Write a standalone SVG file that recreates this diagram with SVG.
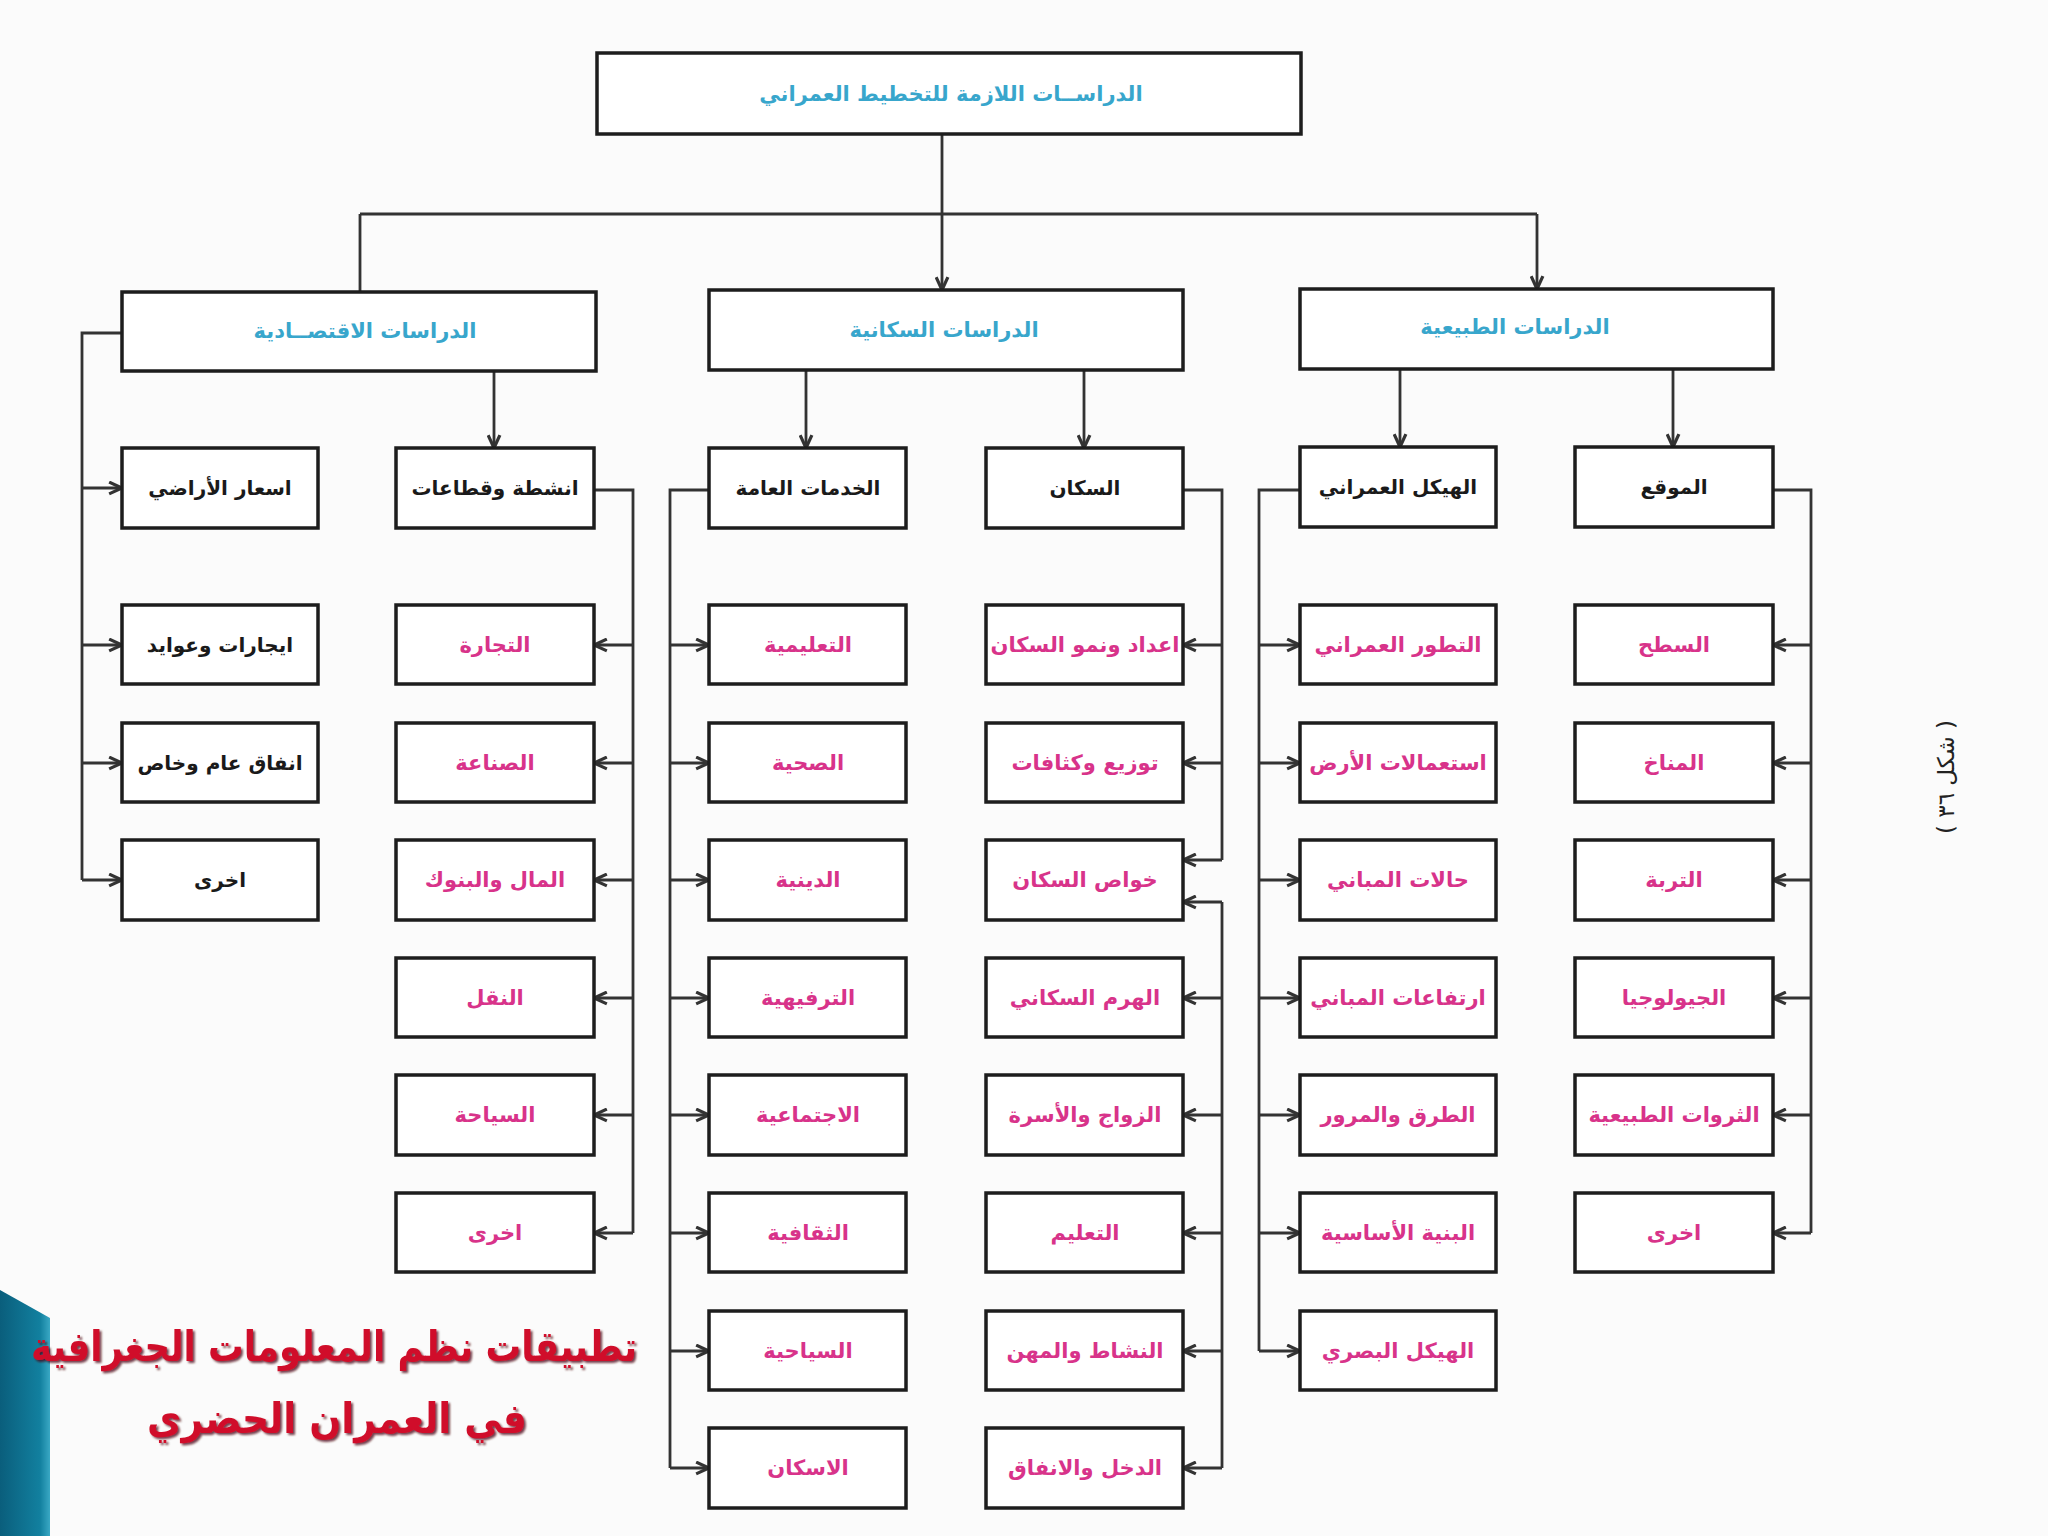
<svg xmlns="http://www.w3.org/2000/svg" width="2048" height="1536" viewBox="0 0 2048 1536">
<defs>
<style>
.box{fill:#ffffff;stroke:#1d1d1d;stroke-width:3.5}
.c{fill:none;stroke:#333333;stroke-width:2.8}
.a{fill:none;stroke:#333333;stroke-width:2.8;marker-end:url(#arr)}
text{font-family:"DejaVu Sans","Noto Sans",sans-serif;text-anchor:middle;dominant-baseline:central;direction:rtl}
.h{font-size:21px;fill:#38a6cc;font-weight:bold}
.k{font-size:20px;fill:#1a1a1a;font-weight:bold}
.p{font-size:21px;fill:#d8338a;font-weight:bold}
.title{font-size:42px;fill:#d0102a;font-weight:bold;filter:url(#sh)}
.cap{font-size:23px;fill:#222222}
</style>
<marker id="arr" markerUnits="userSpaceOnUse" viewBox="0 0 14 14" refX="13" refY="7" markerWidth="15" markerHeight="15" orient="auto">
<path d="M1,1.5 L13,7 L1,12.5" fill="none" stroke="#333333" stroke-width="3"/>
</marker>
<linearGradient id="teal" x1="0" y1="0" x2="1" y2="0">
<stop offset="0" stop-color="#0a5e7c"/>
<stop offset="0.8" stop-color="#12809f"/>
<stop offset="1" stop-color="#3aa8c4"/>
</linearGradient>
<filter id="sh" x="-5%" y="-20%" width="110%" height="140%">
<feDropShadow dx="2" dy="2" stdDeviation="1.2" flood-color="#4a0010" flood-opacity="0.75"/>
</filter>
</defs>
<rect x="0" y="0" width="2048" height="1536" fill="#fbfbfb"/>

<g id="connectors">
<line class="a" x1="942" y1="134" x2="942" y2="290"/>
<line class="c" x1="360" y1="214" x2="1537" y2="214"/>
<line class="c" x1="360" y1="214" x2="360" y2="292"/>
<line class="a" x1="1537" y1="214" x2="1537" y2="289"/>
<line class="a" x1="494" y1="371" x2="494" y2="448"/>
<line class="a" x1="806" y1="370" x2="806" y2="448"/>
<line class="a" x1="1084" y1="370" x2="1084" y2="448"/>
<line class="a" x1="1400" y1="369" x2="1400" y2="447"/>
<line class="a" x1="1673" y1="369" x2="1673" y2="447"/>
<!-- economic left bus -->
<path class="c" d="M122,333 H82 V880"/>
<path class="a" d="M82,488 H122"/>
<path class="a" d="M82,645 H122"/>
<path class="a" d="M82,763 H122"/>
<path class="a" d="M82,880 H122"/>
<!-- economic right bus -->
<path class="c" d="M594,490 H633 V1233"/>
<path class="a" d="M633,645 H594"/>
<path class="a" d="M633,763 H594"/>
<path class="a" d="M633,880 H594"/>
<path class="a" d="M633,998 H594"/>
<path class="a" d="M633,1115 H594"/>
<path class="a" d="M633,1233 H594"/>
<!-- population left bus -->
<path class="c" d="M709,490 H670 V1468"/>
<path class="a" d="M670,645 H709"/>
<path class="a" d="M670,763 H709"/>
<path class="a" d="M670,880 H709"/>
<path class="a" d="M670,998 H709"/>
<path class="a" d="M670,1115 H709"/>
<path class="a" d="M670,1233 H709"/>
<path class="a" d="M670,1351 H709"/>
<path class="a" d="M670,1468 H709"/>
<!-- population right bus -->
<path class="c" d="M1183,490 H1222 V860"/>
<path class="a" d="M1222,645 H1183"/>
<path class="a" d="M1222,763 H1183"/>
<path class="a" d="M1222,860 H1183"/>
<path class="c" d="M1222,902 V1468"/>
<path class="a" d="M1222,902 H1183"/>
<path class="a" d="M1222,998 H1183"/>
<path class="a" d="M1222,1115 H1183"/>
<path class="a" d="M1222,1233 H1183"/>
<path class="a" d="M1222,1351 H1183"/>
<path class="a" d="M1222,1468 H1183"/>
<!-- natural left bus -->
<path class="c" d="M1300,490 H1259 V1351"/>
<path class="a" d="M1259,645 H1300"/>
<path class="a" d="M1259,763 H1300"/>
<path class="a" d="M1259,880 H1300"/>
<path class="a" d="M1259,998 H1300"/>
<path class="a" d="M1259,1115 H1300"/>
<path class="a" d="M1259,1233 H1300"/>
<path class="a" d="M1259,1351 H1300"/>
<!-- natural right bus -->
<path class="c" d="M1773,490 H1811 V1233"/>
<path class="a" d="M1811,645 H1773"/>
<path class="a" d="M1811,763 H1773"/>
<path class="a" d="M1811,880 H1773"/>
<path class="a" d="M1811,998 H1773"/>
<path class="a" d="M1811,1115 H1773"/>
<path class="a" d="M1811,1233 H1773"/>
</g>

<g id="n-root"><rect class="box" x="597" y="53" width="704" height="81"/><text class="h" x="951" y="94">الدراســات اللازمة للتخطيط العمراني</text></g>

<g id="n-econ"><rect class="box" x="122" y="292" width="474" height="79"/><text class="h" x="365" y="331">الدراسات الاقتصــادية</text></g>
<g id="n-pop"><rect class="box" x="709" y="290" width="474" height="80"/><text class="h" x="944" y="330">الدراسات السكانية</text></g>
<g id="n-nat"><rect class="box" x="1300" y="289" width="473" height="80"/><text class="h" x="1515" y="327">الدراسات الطبيعية</text></g>

<g id="n-prices"><rect class="box" x="122" y="448" width="196" height="80"/><text class="k" x="220" y="488">اسعار الأراضي</text></g>
<g id="n-activities"><rect class="box" x="396" y="448" width="198" height="80"/><text class="k" x="495" y="488">انشطة وقطاعات</text></g>
<g id="n-services"><rect class="box" x="709" y="448" width="197" height="80"/><text class="k" x="808" y="488">الخدمات العامة</text></g>
<g id="n-people"><rect class="box" x="986" y="448" width="197" height="80"/><text class="k" x="1085" y="488">السكان</text></g>
<g id="n-fabric"><rect class="box" x="1300" y="447" width="196" height="80"/><text class="k" x="1398" y="487">الهيكل العمراني</text></g>
<g id="n-site"><rect class="box" x="1575" y="447" width="198" height="80"/><text class="k" x="1674" y="487">الموقع</text></g>

<!-- economic left column -->
<g id="n-rents"><rect class="box" x="122" y="605" width="196" height="79"/><text class="k" x="220" y="645">ايجارات وعوايد</text></g>
<g id="n-spending"><rect class="box" x="122" y="723" width="196" height="79"/><text class="k" x="220" y="763">انفاق عام وخاص</text></g>
<g id="n-econ-other"><rect class="box" x="122" y="840" width="196" height="80"/><text class="k" x="220" y="880">اخرى</text></g>

<!-- economic right column -->
<g id="n-trade"><rect class="box" x="396" y="605" width="198" height="79"/><text class="p" x="495" y="645">التجارة</text></g>
<g id="n-industry"><rect class="box" x="396" y="723" width="198" height="79"/><text class="p" x="495" y="763">الصناعة</text></g>
<g id="n-finance"><rect class="box" x="396" y="840" width="198" height="80"/><text class="p" x="495" y="880">المال والبنوك</text></g>
<g id="n-transport"><rect class="box" x="396" y="958" width="198" height="79"/><text class="p" x="495" y="998">النقل</text></g>
<g id="n-tourism"><rect class="box" x="396" y="1075" width="198" height="80"/><text class="p" x="495" y="1115">السياحة</text></g>
<g id="n-act-other"><rect class="box" x="396" y="1193" width="198" height="79"/><text class="p" x="495" y="1233">اخرى</text></g>

<!-- services column -->
<g id="n-edu-s"><rect class="box" x="709" y="605" width="197" height="79"/><text class="p" x="808" y="645">التعليمية</text></g>
<g id="n-health"><rect class="box" x="709" y="723" width="197" height="79"/><text class="p" x="808" y="763">الصحية</text></g>
<g id="n-religious"><rect class="box" x="709" y="840" width="197" height="80"/><text class="p" x="808" y="880">الدينية</text></g>
<g id="n-recreation"><rect class="box" x="709" y="958" width="197" height="79"/><text class="p" x="808" y="998">الترفيهية</text></g>
<g id="n-social"><rect class="box" x="709" y="1075" width="197" height="80"/><text class="p" x="808" y="1115">الاجتماعية</text></g>
<g id="n-cultural"><rect class="box" x="709" y="1193" width="197" height="79"/><text class="p" x="808" y="1233">الثقافية</text></g>
<g id="n-touristic"><rect class="box" x="709" y="1311" width="197" height="79"/><text class="p" x="808" y="1351">السياحية</text></g>
<g id="n-housing"><rect class="box" x="709" y="1428" width="197" height="80"/><text class="p" x="808" y="1468">الاسكان</text></g>

<!-- population column -->
<g id="n-growth"><rect class="box" x="986" y="605" width="197" height="79"/><text class="p" x="1085" y="645">اعداد ونمو السكان</text></g>
<g id="n-density"><rect class="box" x="986" y="723" width="197" height="79"/><text class="p" x="1085" y="763">توزيع وكثافات</text></g>
<g id="n-traits"><rect class="box" x="986" y="840" width="197" height="80"/><text class="p" x="1085" y="880">خواص السكان</text></g>
<g id="n-pyramid"><rect class="box" x="986" y="958" width="197" height="79"/><text class="p" x="1085" y="998">الهرم السكاني</text></g>
<g id="n-marriage"><rect class="box" x="986" y="1075" width="197" height="80"/><text class="p" x="1085" y="1115">الزواج والأسرة</text></g>
<g id="n-education"><rect class="box" x="986" y="1193" width="197" height="79"/><text class="p" x="1085" y="1233">التعليم</text></g>
<g id="n-jobs"><rect class="box" x="986" y="1311" width="197" height="79"/><text class="p" x="1085" y="1351">النشاط والمهن</text></g>
<g id="n-income"><rect class="box" x="986" y="1428" width="197" height="80"/><text class="p" x="1085" y="1468">الدخل والانفاق</text></g>

<!-- urban fabric column -->
<g id="n-evolution"><rect class="box" x="1300" y="605" width="196" height="79"/><text class="p" x="1398" y="645">التطور العمراني</text></g>
<g id="n-landuse"><rect class="box" x="1300" y="723" width="196" height="79"/><text class="p" x="1398" y="763">استعمالات الأرض</text></g>
<g id="n-bcond"><rect class="box" x="1300" y="840" width="196" height="80"/><text class="p" x="1398" y="880">حالات المباني</text></g>
<g id="n-bheight"><rect class="box" x="1300" y="958" width="196" height="79"/><text class="p" x="1398" y="998">ارتفاعات المباني</text></g>
<g id="n-roads"><rect class="box" x="1300" y="1075" width="196" height="80"/><text class="p" x="1398" y="1115">الطرق والمرور</text></g>
<g id="n-infra"><rect class="box" x="1300" y="1193" width="196" height="79"/><text class="p" x="1398" y="1233">البنية الأساسية</text></g>
<g id="n-visual"><rect class="box" x="1300" y="1311" width="196" height="79"/><text class="p" x="1398" y="1351">الهيكل البصري</text></g>

<!-- site column -->
<g id="n-surface"><rect class="box" x="1575" y="605" width="198" height="79"/><text class="p" x="1674" y="645">السطح</text></g>
<g id="n-climate"><rect class="box" x="1575" y="723" width="198" height="79"/><text class="p" x="1674" y="763">المناخ</text></g>
<g id="n-soil"><rect class="box" x="1575" y="840" width="198" height="80"/><text class="p" x="1674" y="880">التربة</text></g>
<g id="n-geology"><rect class="box" x="1575" y="958" width="198" height="79"/><text class="p" x="1674" y="998">الجيولوجيا</text></g>
<g id="n-resources"><rect class="box" x="1575" y="1075" width="198" height="80"/><text class="p" x="1674" y="1115">الثروات الطبيعية</text></g>
<g id="n-site-other"><rect class="box" x="1575" y="1193" width="198" height="79"/><text class="p" x="1674" y="1233">اخرى</text></g>

<text class="cap" x="1946" y="777" transform="rotate(-90 1946 777)">( شكل ٣٦ )</text>

<polygon points="0,1290 50,1318 50,1536 0,1536" fill="url(#teal)"/>
<text class="title" x="334" y="1346" textLength="606" lengthAdjust="spacingAndGlyphs">تطبيقات نظم المعلومات الجغرافية</text>
<text class="title" x="337" y="1418" textLength="380" lengthAdjust="spacingAndGlyphs">في العمران الحضري</text>
</svg>
